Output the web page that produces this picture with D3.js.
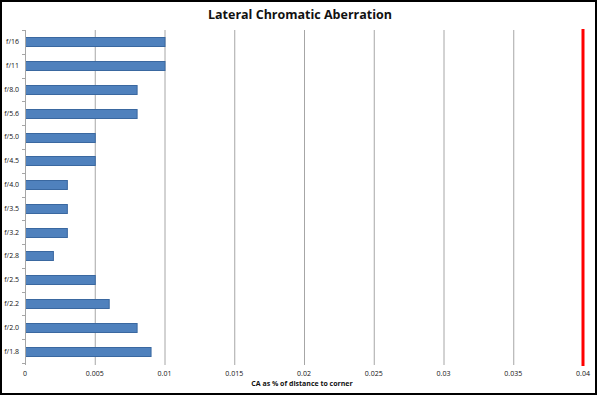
<!DOCTYPE html>
<html>
<head>
<meta charset="utf-8">
<script src="https://cdn.jsdelivr.net/npm/d3@7"></script>
<style>
  html, body { margin: 0; padding: 0; background: #fff; }
  svg { display: block; }
  text { font-family: "Open Sans", "Liberation Sans", sans-serif; }
</style>
</head>
<body>
<div id="chart"></div>
<script>
// Data
const apertures = ["f/16", "f/11", "f/8.0", "f/5.6", "f/5.0", "f/4.5", "f/4.0",
                   "f/3.5", "f/3.2", "f/2.8", "f/2.5", "f/2.2", "f/2.0", "f/1.8"];
const caValues = [0.01, 0.01, 0.008, 0.008, 0.005, 0.005, 0.003,
                  0.003, 0.003, 0.002, 0.005, 0.006, 0.008, 0.009];
const xTicks = [0, 0.005, 0.01, 0.015, 0.02, 0.025, 0.03, 0.035, 0.04];
const limitValue = [0.04];

const width = 597;
const height = 395;
const margin = {top: 30, right: 14, bottom: 32, left: 25};
const innerWidth = width - margin.left - margin.right;
const innerHeight = height - margin.top - margin.bottom;

const svg = d3.select("#chart")
    .append("svg")
    .attr("width", width)
    .attr("height", height);

const g = svg.append("g")
    .attr("transform", `translate(${margin.left},${margin.top})`);

// Scales
const xScale = d3.scaleLinear()
    .domain([0, 0.04])
    .range([0, innerWidth]);

const yScale = d3.scaleBand()
    .domain(apertures)
    .range([0, innerHeight])
    .paddingInner(0.62)
    .paddingOuter(0.31);

// Gridlines
g.append("g")
    .selectAll("line")
    .data(xTicks.slice(1, -1))
    .join("line")
    .attr("x1", d => xScale(d) + 0.5)
    .attr("x2", d => xScale(d) + 0.5)
    .attr("y1", 0)
    .attr("y2", innerHeight + 2)
    .attr("stroke", "#a6a6a6")
    .attr("stroke-width", 1);

// Bars
g.append("g")
    .selectAll("rect")
    .data(apertures)
    .join("rect")
    .attr("x", 0.5)
    .attr("y", d => Math.round(yScale(d)) + 0.5)
    .attr("width", (d, i) => xScale(caValues[i]))
    .attr("height", Math.round(yScale.bandwidth()))
    .attr("fill", "#4f81bd")
    .attr("stroke", "#3a68a0")
    .attr("stroke-width", 1);

// Red limit line
g.append("g")
    .selectAll("line")
    .data(limitValue)
    .join("line")
    .attr("x1", d => xScale(d))
    .attr("x2", d => xScale(d))
    .attr("y1", -1)
    .attr("y2", innerHeight + 3)
    .attr("stroke", "#ff0000")
    .attr("stroke-width", 3);

// Y axis with ticks at category boundaries
const yAxisG = g.append("g");
yAxisG.append("line")
    .attr("x1", 0.5)
    .attr("x2", 0.5)
    .attr("y1", 0)
    .attr("y2", innerHeight + 2)
    .attr("stroke", "#a6a6a6");

const step = yScale.step();
yAxisG.selectAll(".ytick")
    .data(d3.range(apertures.length + 1))
    .join("line")
    .attr("class", "ytick")
    .attr("x1", -3)
    .attr("x2", 0)
    .attr("y1", i => Math.round(i * step) + 0.5)
    .attr("y2", i => Math.round(i * step) + 0.5)
    .attr("stroke", "#a6a6a6");

yAxisG.selectAll(".ylabel")
    .data(apertures)
    .join("text")
    .attr("class", "ylabel")
    .attr("x", -6)
    .attr("y", d => yScale(d) + yScale.bandwidth() / 2)
    .attr("dy", "0.35em")
    .attr("text-anchor", "end")
    .attr("font-size", "7px")
    .attr("fill", "#111")
    .text(d => d);

// X axis labels (drawn by hand so each label gets its own font settings)
g.append("g")
    .attr("transform", `translate(0,${innerHeight + 2})`)
    .selectAll("text")
    .data(xTicks)
    .join("text")
    .attr("x", d => xScale(d))
    .attr("y", 11)
    .attr("text-anchor", "middle")
    .attr("font-size", "7px")
    .attr("fill", "#111")
    .text(d => d === 0 ? "0" : String(+d.toFixed(3)));

// Title
svg.append("text")
    .attr("x", 300)
    .attr("y", 19)
    .attr("text-anchor", "middle")
    .attr("font-size", "12.5px")
    .attr("font-weight", "bold")
    .attr("fill", "#111")
    .text("Lateral Chromatic Aberration");

// Axis title
svg.append("text")
    .attr("x", 302)
    .attr("y", 386)
    .attr("text-anchor", "middle")
    .attr("font-size", "7px")
    .attr("font-weight", "bold")
    .attr("fill", "#111")
    .text("CA as % of distance  to corner");

// Outer frame, drawn last with no fill
svg.append("rect")
    .attr("x", 1)
    .attr("y", 1)
    .attr("width", width - 2)
    .attr("height", height - 2)
    .attr("fill", "none")
    .attr("stroke", "#000")
    .attr("stroke-width", 2);
</script>
</body>
</html>
